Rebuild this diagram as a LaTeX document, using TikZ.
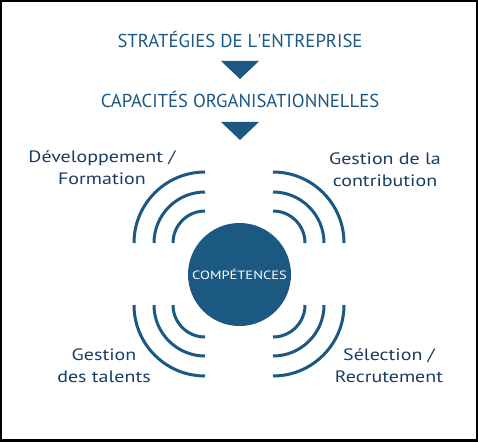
\documentclass[tikz,border=0pt]{standalone}
\usepackage{fontspec}
\setmainfont{PT Sans}
\newfontfamily\largefont[FakeStretch=1.21]{PT Sans}
\definecolor{capblue}{RGB}{27,88,130}
\definecolor{labblue}{RGB}{25,60,96}
\tikzset{
  titre/.style={text=capblue, font=\fontsize{18.7}{22}\selectfont, inner sep=0pt, anchor=base},
  domaine/.style={text=labblue, font=\largefont\fontsize{16.5}{22}\selectfont, align=center, inner sep=0pt, anchor=base},
  onde/.style={capblue, line width=3pt},
}

\begin{document}
\begin{tikzpicture}[x=1pt,y=1pt]
                  % cadre
                  \fill[black] (0,0) rectangle (478,442);
                  \fill[white] (2,3) rectangle (476,440);

                  \node[titre] (strat) at (240,394) {STRATÉGIES DE L\textquotesingle ENTREPRISE};
                  \node[titre] (capa) at (240,334) {CAPACITÉS ORGANISATIONNELLES};
                  \fill[capblue] (221,381) -- (259,381) -- (240,363) -- cycle;
                  \fill[capblue] (221,320) -- (259,320) -- (240,302) -- cycle;

                  \node[circle, fill=capblue, minimum size=103pt, inner sep=0pt, text=white,
                        font=\largefont\fontsize{12}{14}\selectfont] (comp) at (239.5,167.5) {COMPÉTENCES};

                  % ondes autour des competences
                  \def\xg{205} \def\xd{273}
                  \def\yh{199} \def\yb{137}
                  \foreach \r in {32,51,71}{
                          \draw[onde] ({\xg-\r},\yh) arc[start angle=180, end angle=90, radius=\r];
                          \draw[onde] (\xd,{\yh+\r}) arc[start angle=90, end angle=0, radius=\r];
                          \draw[onde] ({\xg-\r},\yb) arc[start angle=180, end angle=270, radius=\r];
                          \draw[onde] (\xd,{\yb-\r}) arc[start angle=270, end angle=360, radius=\r];
                      }

                  \node[domaine] (form) at (102,257) {Développement /\\Formation};
                  \node[domaine] (contrib) at (385,255) {Gestion de la\\contribution};
                  \node[domaine] (talents) at (104,60) {Gestion\\des talents};
                  \node[domaine] (recrut) at (389,60) {Sélection /\\Recrutement};
              \end{tikzpicture}
\end{document}
